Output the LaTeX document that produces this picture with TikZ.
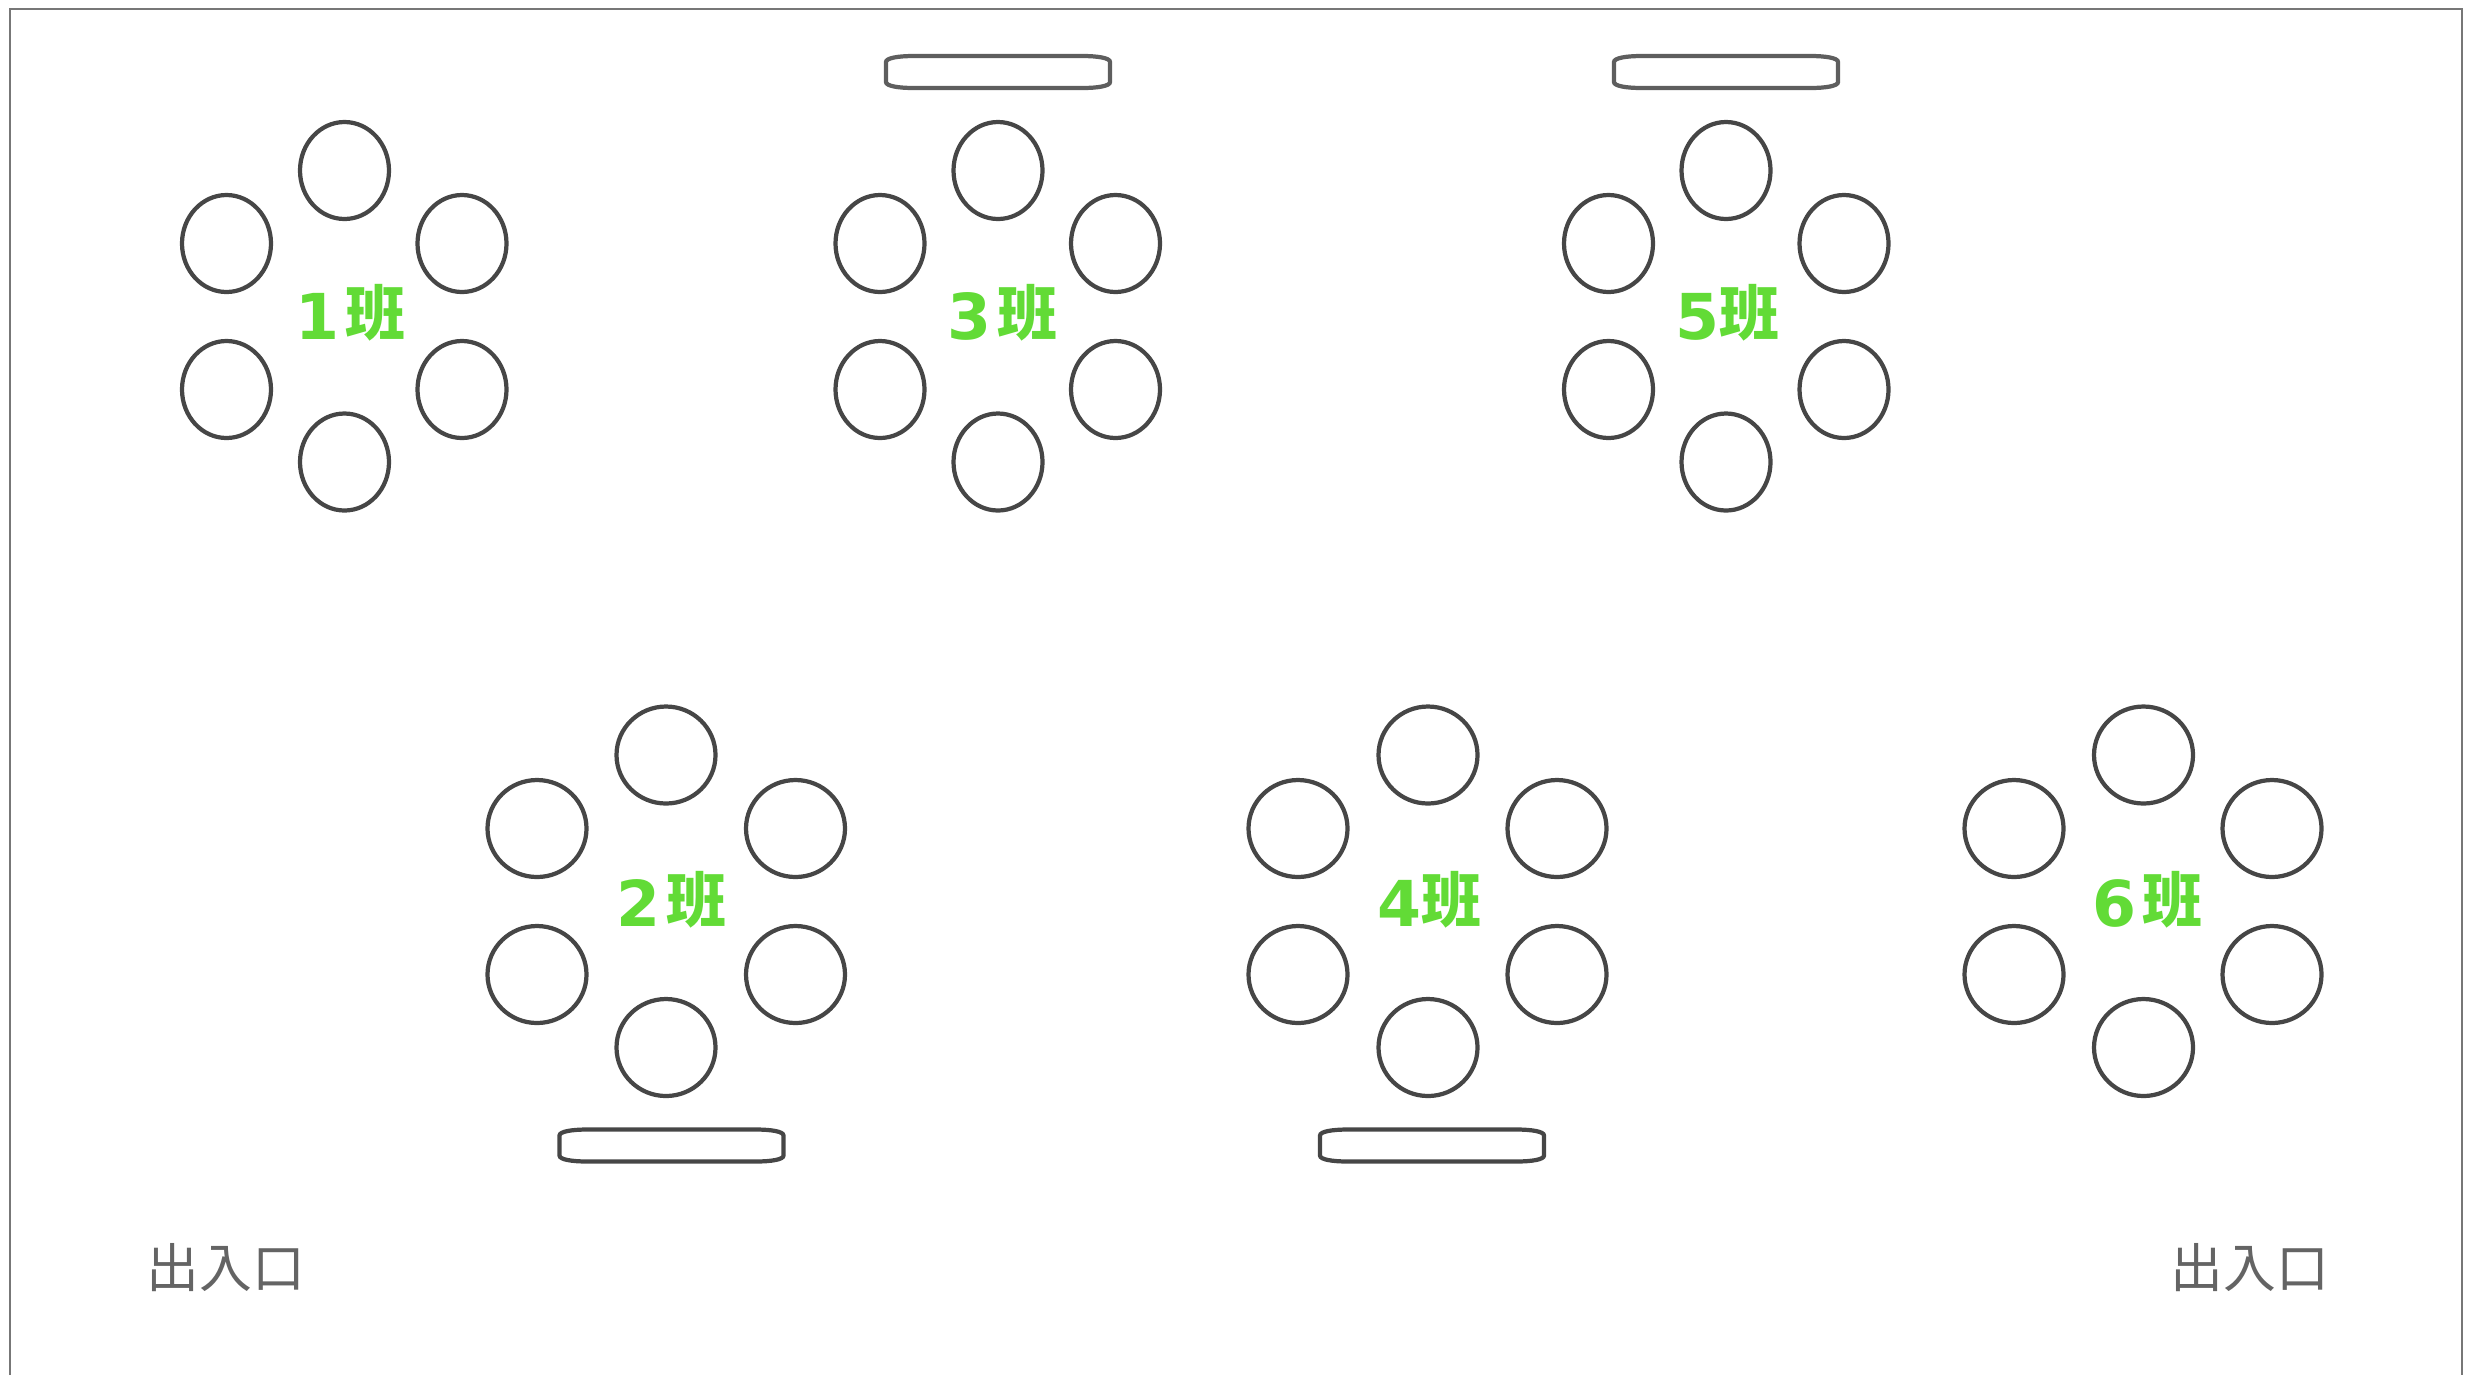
\documentclass[tikz,border=0pt]{standalone}
\usepackage{fontspec}
\setmainfont{DejaVu Sans}
\newfontfamily\cjkfont{Noto Sans CJK JP}
\newcommand{\banchar}{\raisebox{1pt}{\cjkfont\fontsize{17}{20}\selectfont 班}}

\tikzset{
    narrowseat/.style={draw=seatgray, line width=1.2pt, fill=white, x radius=44.5, y radius=48.5},
    wideseat/.style={draw=seatgray, line width=1.2pt, fill=white, x radius=49.5, y radius=48.5},
    classlabel/.style={anchor=base west, inner sep=0pt, text=labelgreen, font=\fontsize{18}{20}\bfseries\selectfont},
    doorlabel/.style={inner sep=0pt, text=doorgray, font=\fontsize{15}{16}\selectfont\cjkfont},
    desk/.pic={
        \draw[line width=1.2pt, pic actions] (-112,-10) -- (-112,10)
            .. controls (-112,14) and (-100,16) .. (-84,16) -- (84,16)
            .. controls (100,16) and (112,14) .. (112,10) -- (112,-10)
            .. controls (112,-14) and (100,-16) .. (84,-16) -- (-84,-16)
            .. controls (-100,-16) and (-112,-14) .. (-112,-10) -- cycle;
    }
}
\definecolor{seatgray}{HTML}{464646}
\definecolor{deskgray}{HTML}{5E5E5E}
\definecolor{labelgreen}{HTML}{62DB36}
\definecolor{doorgray}{HTML}{646464}
\definecolor{framegray}{HTML}{777777}

\begin{document}
\begin{tikzpicture}[x=0.01cm, y=-0.01cm]

    \useasboundingbox (0,0) rectangle (2476,1375);

    % Cadre (open at the bottom)
    \draw[framegray, line width=0.7pt] (10,1375) -- (10,9) -- (2462,9) -- (2462,1375);

    % Group 1
    \draw[narrowseat] (344.5,170.5) circle;
    \draw[narrowseat] (226.5,243.5) circle;
    \draw[narrowseat] (462,243.5) circle;
    \draw[narrowseat] (226.5,389.5) circle;
    \draw[narrowseat] (462,389.5) circle;
    \draw[narrowseat] (344.5,462) circle;
    \node[classlabel] (label1) at (295,339) {1\hspace{1.7pt}\banchar};

    % Group 3
    \draw[narrowseat] (998,170.5) circle;
    \draw[narrowseat] (880,243.5) circle;
    \draw[narrowseat] (1115.5,243.5) circle;
    \draw[narrowseat] (880,389.5) circle;
    \draw[narrowseat] (1115.5,389.5) circle;
    \draw[narrowseat] (998,462) circle;
    \pic[draw=deskgray] at (998,72) {desk};
    \node[classlabel] (label3) at (947,339) {3\hspace{1.7pt}\banchar};

    % Group 5
    \draw[narrowseat] (1726,170.5) circle;
    \draw[narrowseat] (1608.5,243.5) circle;
    \draw[narrowseat] (1844,243.5) circle;
    \draw[narrowseat] (1608.5,389.5) circle;
    \draw[narrowseat] (1844,389.5) circle;
    \draw[narrowseat] (1726,462) circle;
    \pic[draw=deskgray] at (1726,72) {desk};
    \node[classlabel] (label5) at (1675,339) {5\banchar};

    % Group 2
    \draw[wideseat] (666,755) circle;
    \draw[wideseat] (537,828.5) circle;
    \draw[wideseat] (795.5,828.5) circle;
    \draw[wideseat] (537,974.5) circle;
    \draw[wideseat] (795.5,974.5) circle;
    \draw[wideseat] (666,1047.5) circle;
    \pic[draw=seatgray] at (671.5,1145.5) {desk};
    \node[classlabel] (label2) at (616,926) {2\hspace{1.7pt}\banchar};

    % Group 4
    \draw[wideseat] (1428,755) circle;
    \draw[wideseat] (1298,828.5) circle;
    \draw[wideseat] (1557,828.5) circle;
    \draw[wideseat] (1298,974.5) circle;
    \draw[wideseat] (1557,974.5) circle;
    \draw[wideseat] (1428,1047.5) circle;
    \pic[draw=seatgray] at (1432,1145.5) {desk};
    \node[classlabel] (label4) at (1377,926) {4\banchar};

    % Group 6
    \draw[wideseat] (2143.5,755) circle;
    \draw[wideseat] (2014,828.5) circle;
    \draw[wideseat] (2272,828.5) circle;
    \draw[wideseat] (2014,974.5) circle;
    \draw[wideseat] (2272,974.5) circle;
    \draw[wideseat] (2143.5,1047.5) circle;
    \node[classlabel] (label6) at (2092,926) {6\hspace{1.7pt}\banchar};

    % Doors
    \node[doorlabel] (doorleft) at (226,1268) {出入口};
    \node[doorlabel] (doorright) at (2250,1268) {出入口};

\end{tikzpicture}
\end{document}
